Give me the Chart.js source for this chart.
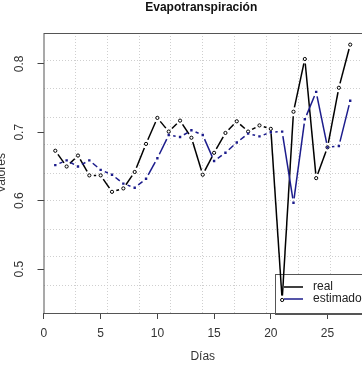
<!DOCTYPE html>
<html>
<head>
<meta charset="utf-8">
<script src="https://cdn.jsdelivr.net/npm/chart.js@4.4.1/dist/chart.umd.min.js"></script>
<style>
html, body { margin: 0; padding: 0; background: #fff; overflow: hidden; }
#wrap { width: 362px; height: 366px; }
</style>
</head>
<body>
<div id="wrap"><canvas id="evapo-chart"></canvas></div>
<script>
// datos
var dias = [1, 2, 3, 4, 5, 6, 7, 8, 9, 10, 11, 12, 13, 14, 15, 16, 17, 18, 19, 20, 21, 22, 23, 24, 25, 26, 27];
var real = [0.673, 0.650, 0.666, 0.637, 0.637, 0.613, 0.618, 0.642, 0.683, 0.721, 0.701, 0.717, 0.692, 0.638,
            0.670, 0.699, 0.716, 0.701, 0.710, 0.705, 0.455, 0.730, 0.807, 0.633, 0.678, 0.765, 0.828];
var estimado = [0.652, 0.659, 0.650, 0.659, 0.645, 0.638, 0.625, 0.619, 0.632, 0.662, 0.696, 0.693, 0.703, 0.696,
                0.658, 0.670, 0.685, 0.698, 0.694, 0.700, 0.701, 0.597, 0.719, 0.759, 0.678, 0.680, 0.746];
var xTicks = [0, 5, 10, 15, 20, 25];
var yTicks = [0.5, 0.6, 0.7, 0.8];
var xLim = [-0.04, 28.04];
var yLim = [0.436, 0.845];

var fuente = '"Liberation Sans", Arial, sans-serif';
var azul = '#1c1c8c';
var hueco = 4.5;   // hueco alrededor de cada punto (type = "b")

function pares(ys) {
    return dias.map(function(d, i){ return {x: d, y: ys[i]}; });
}
// lineas de grid() : 10 divisiones del rango
function divisiones(lim) {
    var out = [];
    for (var k = 1; k < 10; k++) out.push(lim[0] + k * (lim[1] - lim[0]) / 10);
    return out;
}
function fijarTicks(vals) {
    return function(scale){ scale.ticks = vals.map(function(v){ return {value: v}; }); };
}
// cada tramo se dibuja dejando un hueco en cada extremo
function tramoConHueco(c) {
    var dx = c.p1.x - c.p0.x, dy = c.p1.y - c.p0.y;
    var largo = Math.sqrt(dx * dx + dy * dy);
    if (!(largo > 2 * hueco)) return [0, 1000];
    return [0, hueco, largo - 2 * hueco, hueco];
}

var marco = {
    id: 'marco',
    beforeDatasetsDraw: function(chart){
        var ctx = chart.ctx, a = chart.chartArea;
        // leyenda abajo a la derecha
        var x0 = a.right - 87, y0 = a.bottom - 39;
        ctx.save();
        ctx.fillStyle = '#fff';
        ctx.fillRect(x0, y0, 100, 39);
        ctx.strokeStyle = '#555';
        ctx.lineWidth = 1;
        ctx.strokeRect(x0 + 0.5, y0 + 0.5, 100, 40);
        ctx.lineWidth = 1.5;
        ctx.strokeStyle = '#000';
        ctx.beginPath(); ctx.moveTo(x0 + 9, y0 + 13); ctx.lineTo(x0 + 28, y0 + 13); ctx.stroke();
        ctx.strokeStyle = azul;
        ctx.beginPath(); ctx.moveTo(x0 + 9, y0 + 25); ctx.lineTo(x0 + 28, y0 + 25); ctx.stroke();
        ctx.fillStyle = '#222';
        ctx.font = '12px ' + fuente;
        ctx.textAlign = 'left';
        ctx.textBaseline = 'middle';
        ctx.fillText('real', x0 + 38, y0 + 13);
        ctx.fillText('estimado', x0 + 38, y0 + 25);
        ctx.restore();
    },
    afterDraw: function(chart){
        var ctx = chart.ctx, a = chart.chartArea;
        ctx.save();
        ctx.strokeStyle = '#555';
        ctx.lineWidth = 1;
        ctx.strokeRect(a.left + 0.5, a.top + 0.5, a.right - a.left, a.bottom - a.top);
        ctx.fillStyle = '#111';
        ctx.font = 'bold 12px ' + fuente;
        ctx.textAlign = 'center';
        ctx.textBaseline = 'middle';
        ctx.fillText('Evapotranspiración', (a.left + a.right) / 2 - 1.5, 8);
        // etiquetas del eje y, giradas como en R
        ctx.font = '12px ' + fuente;
        ctx.fillStyle = '#333';
        yTicks.forEach(function(v){
            var y = chart.scales.y.getPixelForValue(v);
            ctx.save();
            ctx.translate(20, y);
            ctx.rotate(-Math.PI / 2);
            ctx.fillText(v.toFixed(1), 0, 0);
            ctx.restore();
        });
        ctx.restore();
    }
};

var ctx = document.getElementById('evapo-chart').getContext('2d');
var data = {
    datasets: [
        {   // estimado: puntos
            data: pares(estimado), showLine: false, order: 0,
            pointStyle: 'rect', pointRadius: 1.7, pointBorderWidth: 0,
            pointBackgroundColor: azul, pointBorderColor: azul
        },
        {   // estimado: linea
            data: pares(estimado), order: 1, borderColor: azul, borderWidth: 1.5,
            pointRadius: 0, fill: false, tension: 0,
            segment: { borderDash: tramoConHueco }
        },
        {   // real: puntos
            data: pares(real), showLine: false, order: 2,
            pointStyle: 'circle', pointRadius: 1.6, pointBorderWidth: 1,
            pointBackgroundColor: '#fff', pointBorderColor: '#000'
        },
        {   // real: linea
            data: pares(real), order: 3, borderColor: '#000', borderWidth: 1.5,
            pointRadius: 0, fill: false, tension: 0,
            segment: { borderDash: tramoConHueco }
        }
    ]
};
var options = {
    responsive: true,
    maintainAspectRatio: false,
    animation: false,
    events: [],
    layout: { autoPadding: false, padding: { top: 33, left: 0, right: 0, bottom: 0 } },
    plugins: { legend: { display: false }, tooltip: { enabled: false }, title: { display: false } },
    scales: {
        x: {
            type: 'linear', min: xLim[0], max: xLim[1],
            afterBuildTicks: fijarTicks(xTicks),
            afterFit: function(s){ s.height = 53; },
            grid: { display: true, drawOnChartArea: false, drawTicks: true, tickLength: 6, color: '#444' },
            border: { display: false },
            ticks: { color: '#333', padding: 7, maxRotation: 0, font: { size: 12, family: fuente } },
            title: { display: true, text: 'Días', color: '#333', padding: { top: 0, bottom: 2 }, font: { size: 12, family: fuente } }
        },
        y: {
            type: 'linear', min: yLim[0], max: yLim[1],
            afterBuildTicks: fijarTicks(yTicks),
            afterFit: function(s){ s.width = 43.5; },
            grid: { display: true, drawOnChartArea: false, drawTicks: true, tickLength: 6, color: '#444' },
            border: { display: false },
            ticks: { display: false },
            title: { display: true, text: 'Valores', color: '#333', padding: { top: -6, bottom: 0 }, font: { size: 12, family: fuente } }
        },
        xg: {
            type: 'linear', position: 'top', min: xLim[0], max: xLim[1],
            afterBuildTicks: fijarTicks(divisiones(xLim)),
            afterFit: function(s){ s.height = 0; },
            grid: { color: '#cfcfcf', drawTicks: false },
            border: { display: false, dash: [1, 2] },
            ticks: { display: false }
        },
        yg: {
            type: 'linear', position: 'left', min: yLim[0], max: yLim[1],
            afterBuildTicks: fijarTicks(divisiones(yLim)),
            afterFit: function(s){ s.width = 0; },
            grid: { color: '#cfcfcf', drawTicks: false },
            border: { display: false, dash: [1, 2] },
            ticks: { display: false }
        }
    }
};
var evapoChart = new Chart(ctx, {
    type: 'line',
    data: data,
    options: options,
    plugins: [marco]
});
</script>
</body>
</html>
